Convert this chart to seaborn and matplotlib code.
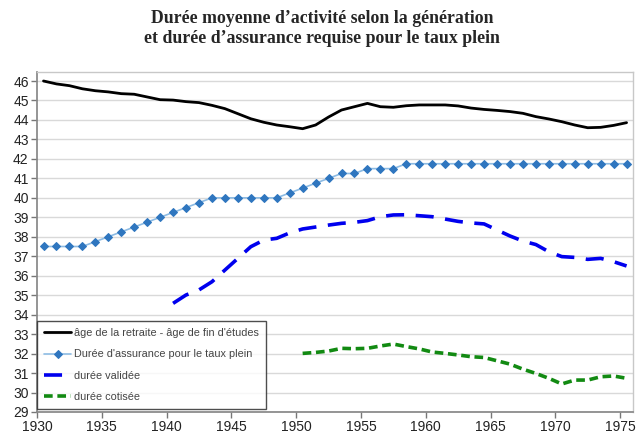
import numpy as np
import pandas as pd
import matplotlib
matplotlib.use("Agg")
import matplotlib.pyplot as plt
import seaborn as sns

years = list(range(1930, 1976))

age_retraite = [46.0, 45.85, 45.76, 45.6, 45.5, 45.44, 45.35, 45.32, 45.18, 45.04,
                45.02, 44.94, 44.89, 44.75, 44.58, 44.32, 44.06, 43.88, 43.74, 43.65,
                43.55, 43.74, 44.15, 44.51, 44.68, 44.85, 44.68, 44.65, 44.73, 44.77,
                44.77, 44.77, 44.72, 44.61, 44.54, 44.49, 44.43, 44.34, 44.17, 44.05,
                43.91, 43.74, 43.6, 43.62, 43.72, 43.86]

duree_assurance = [37.5, 37.5, 37.5, 37.5, 37.75, 38.0, 38.25, 38.5, 38.75, 39.0,
                   39.25, 39.5, 39.75, 40.0, 40.0, 40.0, 40.0, 40.0, 40.0, 40.25,
                   40.5, 40.75, 41.0, 41.25, 41.25, 41.5, 41.5, 41.5, 41.75, 41.75,
                   41.75, 41.75, 41.75, 41.75, 41.75, 41.75, 41.75, 41.75, 41.75, 41.75,
                   41.75, 41.75, 41.75, 41.75, 41.75, 41.75]

years_validee = list(range(1940, 1976))
duree_validee = [34.58, 35.01, 35.27, 35.69, 36.29, 36.89, 37.49, 37.83, 37.92, 38.2,
                 38.4, 38.5, 38.6, 38.69, 38.74, 38.83, 39.03, 39.12, 39.13, 39.08,
                 39.03, 38.91, 38.79, 38.71, 38.66, 38.35, 38.04, 37.78, 37.6, 37.23,
                 36.98, 36.94, 36.84, 36.89, 36.72, 36.5]

years_cotisee = list(range(1950, 1976))
duree_cotisee = [32.01, 32.06, 32.13, 32.27, 32.25, 32.27, 32.39, 32.49, 32.36, 32.24,
                 32.08, 32.01, 31.93, 31.84, 31.8, 31.63, 31.46, 31.2, 30.98, 30.73,
                 30.44, 30.64, 30.64, 30.81, 30.85, 30.73]

labels = ["âge de la retraite - âge de fin d'études",
          "Durée d'assurance pour le taux plein",
          "durée validée",
          "durée cotisée"]

title = "Durée moyenne d’activité selon la génération\net durée d’assurance requise pour le taux plein"

tick_years = [1930, 1935, 1940, 1945, 1950, 1955, 1960, 1965, 1970, 1975]
y_ticks = list(range(29, 47))

sns.set_theme(style="white")
plt.rcParams['font.family'] = ['Liberation Sans', 'DejaVu Sans']

fig = plt.figure(figsize=(6.44, 4.34), dpi=100)
ax = fig.add_axes([0.0575, 0.0507, 0.9255, 0.7833])

# Excel-like category placement: points centred between tick marks
xs = np.array(years) + 0.5
sns.lineplot(x=xs, y=age_retraite, ax=ax, color="black", linewidth=2.0,
             label=labels[0])
sns.lineplot(x=xs, y=duree_assurance, ax=ax, color="#8dbbe3", linewidth=1.2,
             marker="D", markersize=4, markerfacecolor="#2f76bf",
             markeredgecolor="#2f76bf", label=labels[1])
sns.lineplot(x=np.array(years_validee) + 0.5, y=duree_validee, ax=ax, color="#0000ee",
             linewidth=2.6, label=labels[2])
ax.lines[-1].set_dashes([5, 3.2])
sns.lineplot(x=np.array(years_cotisee) + 0.5, y=duree_cotisee, ax=ax, color="#128a12",
             linewidth=2.6, label=labels[3])
ax.lines[-1].set_dashes([2.4, 1.3])

ax.set_xlim(1930, 1976)
ax.set_ylim(29, 46.46)
ax.set_xticks(tick_years)
ax.set_xticklabels([str(t) for t in tick_years], fontsize=10, color="#222222")
ax.set_yticks(y_ticks)
ax.set_yticklabels([str(t) for t in y_ticks], fontsize=10, color="#222222")
ax.yaxis.grid(True, color="#d9d9d9", linewidth=1.0)
ax.xaxis.grid(False)
ax.set_axisbelow(True)
ax.tick_params(axis="both", which="both", length=4, width=1, color="#777777",
               direction="out", pad=2, bottom=True, left=True)
for side in ["top", "right"]:
    ax.spines[side].set_color("#c8c8c8")
    ax.spines[side].set_linewidth(1.0)
ax.spines["left"].set_color("#888888")
ax.spines["bottom"].set_color("#888888")
ax.set_xlabel("")
ax.set_ylabel("")

leg = ax.legend(loc="lower left", bbox_to_anchor=(0.0, 0.008), borderaxespad=0,
                frameon=True, fancybox=False, fontsize=7.8, handlelength=2.5,
                labelspacing=1.05, borderpad=0.65, handletextpad=0.3)
leg.get_frame().set_edgecolor("#222222")
leg.get_frame().set_linewidth(1.0)
for t in leg.get_texts():
    t.set_color("#444444")

fig.text(0.5, 0.978, title, ha="center", va="top", fontsize=12.8,
         fontweight="bold", family=["Liberation Serif", "DejaVu Serif"],
         linespacing=1.3)

fig.savefig("out.png", dpi=100)
